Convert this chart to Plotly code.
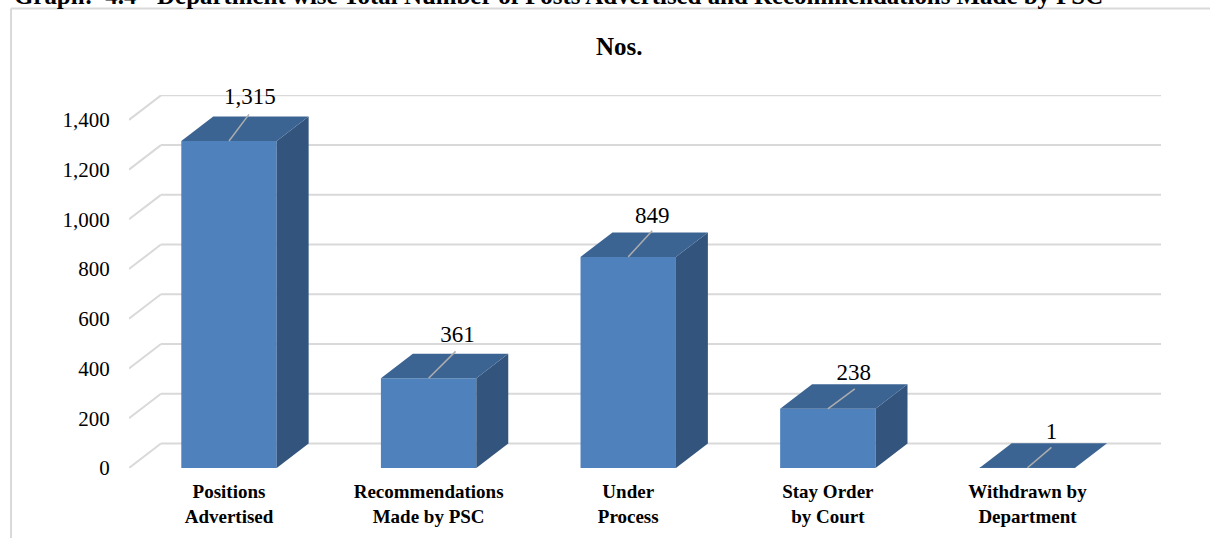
import plotly.graph_objects as go

categories = ["Positions<br>Advertised", "Recommendations<br>Made by PSC", "Under<br>Process",
              "Stay Order<br>by Court", "Withdrawn by<br>Department"]
values = [1315, 361, 849, 238, 1]
y_ticks = [0, 200, 400, 600, 800, 1000, 1200, 1400]
x_pos = [0, 1, 2, 3, 4]

# 3-D look, in axis units
BAR_W = 0.478
DX = 0.16
DY = 98.5
X_MIN, X_MAX = -0.501, 4.669
LEAD_X = [0.10, 0.135, 0.12, 0.135, 0.12]
LEAD_Y = [107, 108, 105, 80, 82]
LABEL_DX = [0.005, 0.01, 0, -0.005, 0]
LABEL_DY = [20, 16, 8, 12, 12]

FRONT, TOP, SIDE = "#4f81bd", "#3c6493", "#33547c"
GRID, LEAD = "#d9d9d9", "#adadad"
SERIF = "Liberation Serif"
INK = "#000000"

fig = go.Figure()
fig.add_trace(go.Bar(x=x_pos, y=values, width=BAR_W, marker=dict(color=FRONT, line=dict(width=0)),
                     hoverinfo="skip", showlegend=False))

for x, v in zip(x_pos, values):
    l, r = x - BAR_W / 2, x + BAR_W / 2
    fig.add_trace(go.Scatter(x=[r, r + DX, r + DX, r, r], y=[0, DY, v + DY, v, 0], mode="lines", fill="toself",
                             fillcolor=SIDE, line=dict(width=0), hoverinfo="skip", showlegend=False))
    fig.add_trace(go.Scatter(x=[l, r, r + DX, l + DX, l], y=[v, v, v + DY, v + DY, v], mode="lines", fill="toself",
                             fillcolor=TOP, line=dict(width=0), hoverinfo="skip", showlegend=False))

for x, v, lx, ly, tx, ty in zip(x_pos, values, LEAD_X, LEAD_Y, LABEL_DX, LABEL_DY):
    fig.add_trace(go.Scatter(x=[x, x + lx], y=[v, v + ly], mode="lines", line=dict(color=LEAD, width=1.5),
                             hoverinfo="skip", showlegend=False, cliponaxis=False))
    fig.add_trace(go.Scatter(x=[x + lx + tx], y=[v + ly + ty], mode="text", text=[f"{v:,}"],
                             textposition="top center", textfont=dict(family=SERIF, size=23, color=INK),
                             hoverinfo="skip", showlegend=False, cliponaxis=False))

shapes = []
for t in y_ticks:
    for x0, y0, x1, y1 in [(X_MIN, t, X_MIN + DX, t + DY), (X_MIN + DX, t + DY, X_MAX, t + DY)]:
        shapes.append(dict(type="line", xref="x", yref="y", x0=x0, y0=y0, x1=x1, y1=y1, layer="below",
                           line=dict(color=GRID, width=2)))
# outer frame of the chart area
FRAME_L, FRAME_R, FRAME_T, FRAME_B = -0.1143, 1.0475, 1.2319, -0.19
shapes.append(dict(type="line", xref="paper", yref="paper", x0=FRAME_L, x1=FRAME_R, y0=FRAME_T, y1=FRAME_T,
                   line=dict(color=GRID, width=2)))
shapes.append(dict(type="line", xref="paper", yref="paper", x0=FRAME_L, x1=FRAME_L, y0=FRAME_T, y1=FRAME_B,
                   line=dict(color=GRID, width=2)))

fig.update_layout(
    width=1210, height=538, margin=dict(l=129, r=49, t=95, b=70, autoexpand=False),
    paper_bgcolor="white", plot_bgcolor="rgba(0,0,0,0)", showlegend=False, shapes=shapes,
    xaxis=dict(range=[X_MIN, X_MAX], tickmode="array", tickvals=x_pos, ticktext=[f"<b>{c}</b>" for c in categories],
               showgrid=False, zeroline=False, showline=False, ticks="outside", ticklen=6,
               tickcolor="rgba(0,0,0,0)", tickfont=dict(family=SERIF, size=19, color=INK), tickangle=0),
    yaxis=dict(range=[0, 1500], tickmode="array", tickvals=y_ticks, tickformat=",", showgrid=False,
               zeroline=False, showline=False, ticks="outside", ticklen=14, tickcolor="rgba(0,0,0,0)",
               tickfont=dict(family=SERIF, size=21, color=INK)),
    annotations=[
        dict(text="<b>Nos.</b>", xref="paper", yref="paper", x=0.475, y=1.131, showarrow=False, yanchor="middle",
             font=dict(family=SERIF, size=25, color=INK)),
        dict(text="<b>Graph:&nbsp;&nbsp;4.4 - Department wise Total Number of Posts Advertised and Recommendations Made by PSC</b>",
             xref="paper", yref="paper", x=-0.1131, xanchor="left", y=1.268, yanchor="middle", showarrow=False,
             font=dict(family=SERIF, size=24.9, color=INK)),
    ],
)
fig.write_html("out.html", config={"displayModeBar": False}, post_script="document.body.style.margin='0';")
